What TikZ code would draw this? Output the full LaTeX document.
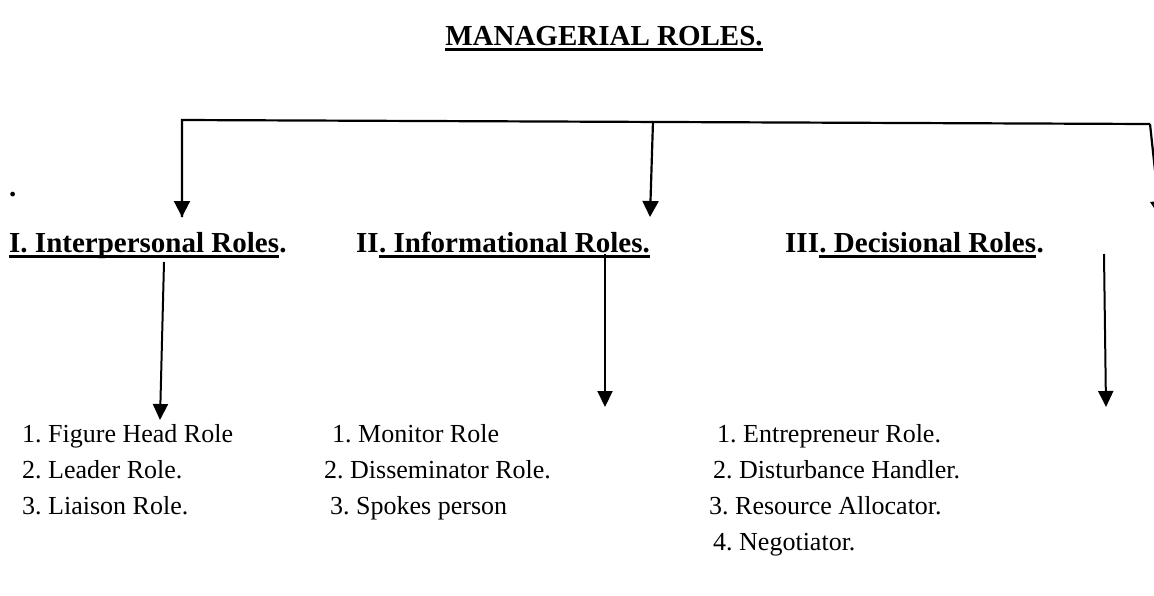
\documentclass[tikz,border=0pt]{standalone}
\usepackage{fontspec}
\setmainfont{Liberation Serif}
\usetikzlibrary{arrows.meta}
\frenchspacing

\begin{document}
\begin{tikzpicture}[
    x=1pt, y=-1pt,
    title/.style={font=\fontsize{29}{34}\selectfont\bfseries, inner sep=0pt, anchor=base},
    head/.style={font=\fontsize{29}{34}\selectfont\bfseries, inner sep=0pt, anchor=base west},
    item/.style={font=\fontsize{26}{30}\selectfont, inner sep=0pt, anchor=base west},
    uline/.style={line width=2.8pt},
    bus/.style={line width=2.2pt},
    link/.style={line width=2.2pt, -{Triangle[width=16pt,length=16pt]}},
    sublink/.style={line width=2pt, -{Triangle[width=15pt,length=16pt]}}
]
\useasboundingbox (0,0) rectangle (1154,595);

% title
\node[title] (title) at (604,45) {MANAGERIAL ROLES.};
\draw[uline] ([yshift=-4.5pt]title.base west) -- ([yshift=-4.5pt]title.base east);
\node[head] (dot) at (9,196) {.};

% the three groups of roles
\node[head] (inter-a) at (9,252) {I. Interpersonal Roles};
\node[head] (inter-b) at (inter-a.base east) {.};
\node[head] (info-a) at (356,252) {II};
\node[head] (info-b) at (info-a.base east) {. Informational Roles.};
\node[head] (decis-a) at (785,252) {III};
\node[head] (decis-b) at (decis-a.base east) {. Decisional Roles};
\node[head] (decis-c) at (decis-b.base east) {.};
\foreach \n in {inter-a, info-b, decis-b}{
    \draw[uline] ([yshift=-4.5pt]\n.base west) -- ([yshift=-4.5pt]\n.base east);
}

% top bar with its arrows
\coordinate (bus-l) at (182,120);
\coordinate (bus-m) at (653,121);
\coordinate (bus-r) at (1150,124);
\coordinate (tip-l) at (182,217);
\coordinate (tip-m) at (650,217);
\coordinate (tip-r) at (1160,217);
\draw[bus] (tip-l) -- (bus-l) -- (bus-r);
\draw[link] (bus-l) -- (tip-l);
\draw[link] (bus-m) -- (tip-m);
\draw[link] (bus-r) -- (tip-r);

% arrows down to the lists
\coordinate (from-inter) at (164,262);
\coordinate (to-inter) at (160,420);
\coordinate (from-info) at (605,254);
\coordinate (to-info) at (605,407);
\coordinate (from-decis) at (1104,254);
\coordinate (to-decis) at (1106,407);
\draw[sublink] (from-inter) -- (to-inter);
\draw[sublink] (from-info) -- (to-info);
\draw[sublink] (from-decis) -- (to-decis);

% the roles
\foreach \x/\txt [count=\i] in {22/1. Figure Head Role, 22/2. Leader Role., 22/3. Liaison Role.}{
    \node[item] (inter-\i) at (\x,{442+36*(\i-1)}) {\txt};
}
\foreach \x/\txt [count=\i] in {332/1. Monitor Role, 324/2. Disseminator Role., 330/3. Spokes person}{
    \node[item] (info-\i) at (\x,{442+36*(\i-1)}) {\txt};
}
\foreach \x/\txt [count=\i] in {717/1. Entrepreneur Role., 713/2. Disturbance Handler., 709/3. Resource Allocator., 713/4. Negotiator.}{
    \node[item] (decis-\i) at (\x,{442+36*(\i-1)}) {\txt};
}
\end{tikzpicture}
\end{document}
